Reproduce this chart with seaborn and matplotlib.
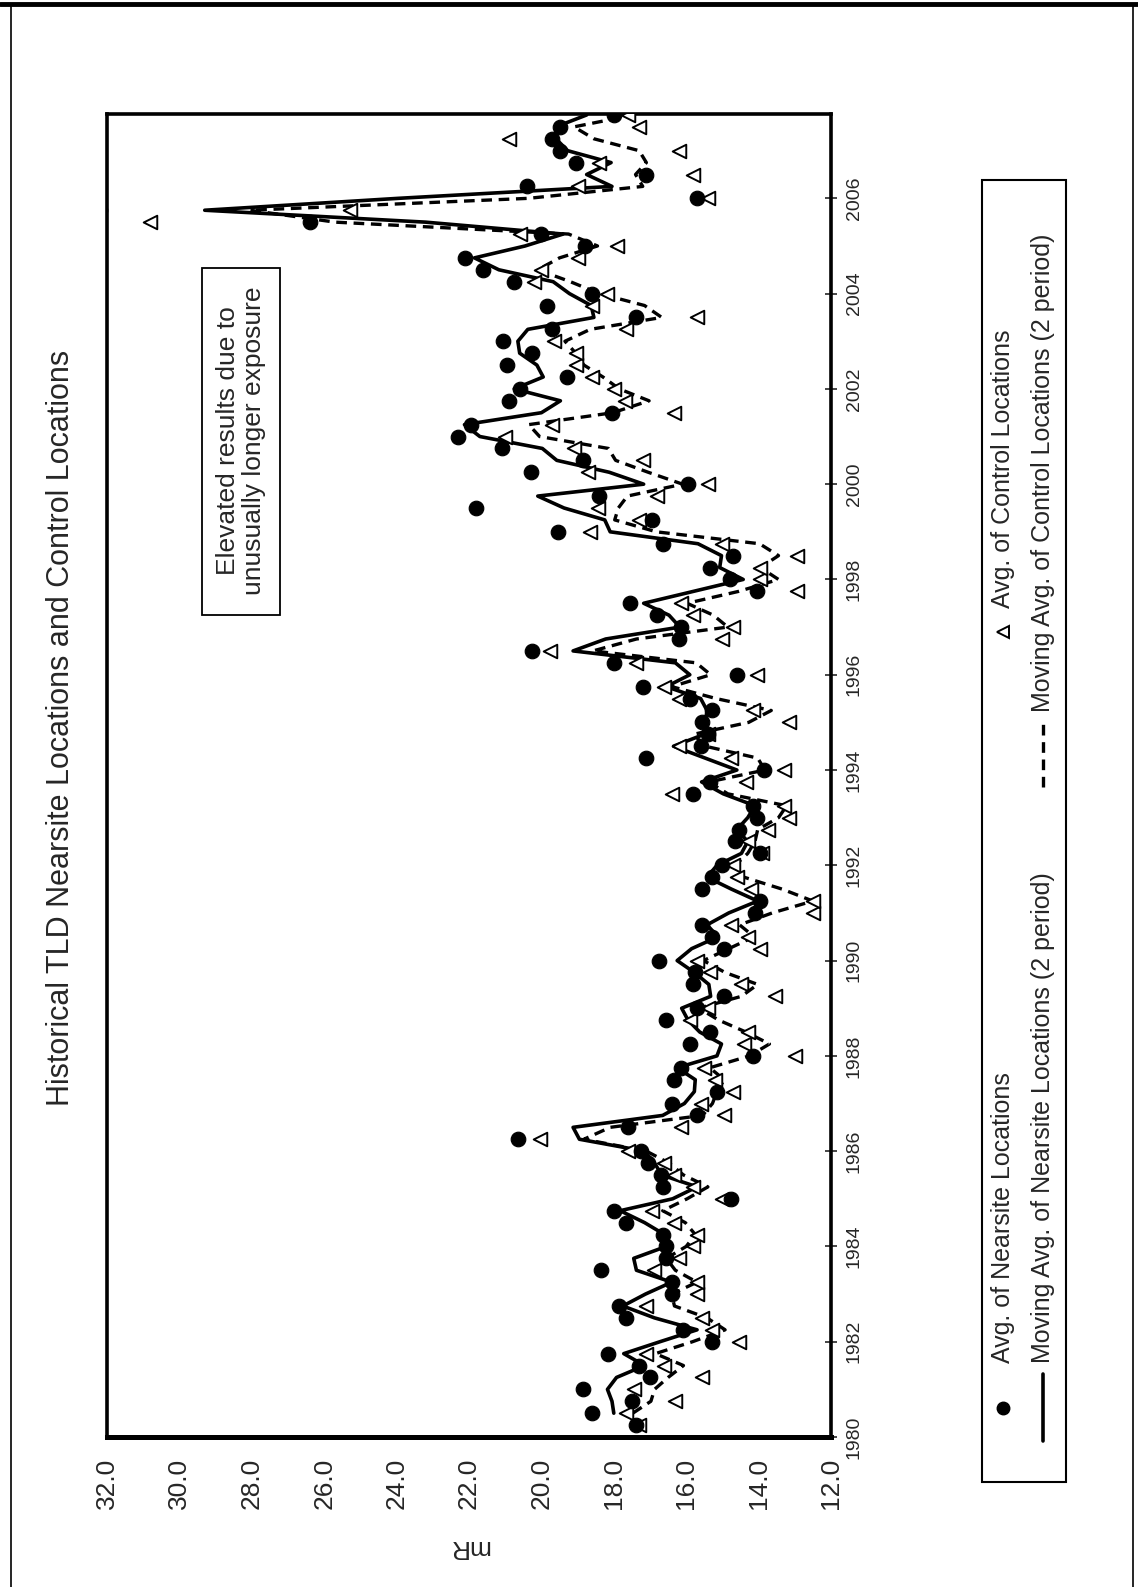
import numpy as np
import pandas as pd
import matplotlib
matplotlib.use("Agg")
import matplotlib.pyplot as plt
import seaborn as sns
from matplotlib.lines import Line2D
from matplotlib.patches import Rectangle

# quarterly sampling dates, 1980.25 ... 2007.75
years = np.arange(1980.25, 2007.76, 0.25)

# Avg. of Nearsite Locations (mR), rows of 4 quarters starting 1980.25
nearsite = [
    17.4, 18.6, 17.5, 18.85,
    17.0, 17.3, 18.15, 15.3,
    16.1, 17.65, 17.85, 16.4,
    16.4, 18.35, 16.55, 16.55,
    16.65, 17.65, 18.0, 14.75,
    16.65, 16.7, 17.05, 17.25,
    20.65, 17.6, 15.7, 16.4,
    15.15, 16.35, 16.15, 14.15,
    15.9, 15.35, 16.55, 15.7,
    14.95, 15.8, 15.75, 16.75,
    14.95, 15.3, 15.55, 14.1,
    13.95, 15.55, 15.3, 15.0,
    13.95, 14.65, 14.55, 14.05,
    14.15, 15.8, 15.35, 13.85,
    17.1, 15.6, 15.4, 15.55,
    15.3, 15.9, 17.2, 14.6,
    18.0, 20.25, 16.2, 16.15,
    16.8, 17.55, 14.05, 14.8,
    15.35, 14.7, 16.65, 19.55,
    16.95, 21.8, 18.4, 15.95,
    20.3, 18.85, 21.1, 22.3,
    21.95, 18.05, 20.9, 20.6,
    19.3, 20.95, 20.25, 21.05,
    19.7, 17.4, 19.85, 18.6,
    20.75, 21.6, 22.1, 18.8,
    20.0, 26.4, 32.2, 15.7,
    20.4, 17.1, 19.05, 19.5,
    19.7, 19.5, 18.0,
]

# Avg. of Control Locations (mR)
control = [
    17.3, 17.65, 16.3, 17.45,
    15.55, 16.6, 17.1, 14.55,
    15.3, 15.55, 17.1, 15.7,
    15.7, 16.9, 16.2, 15.8,
    15.7, 16.35, 16.95, 15.0,
    15.8, 16.35, 16.6, 17.6,
    20.05, 16.15, 14.95, 15.6,
    14.7, 15.2, 15.5, 13.0,
    14.4, 14.3, 15.9, 15.4,
    13.55, 14.5, 15.35, 15.7,
    13.95, 14.3, 14.75, 12.5,
    12.5, 14.2, 14.6, 14.7,
    13.9, 14.3, 13.75, 13.15,
    13.3, 16.4, 14.35, 13.3,
    14.75, 16.2, 15.4, 13.15,
    14.15, 16.2, 16.6, 14.05,
    17.4, 19.75, 15.0, 14.7,
    15.8, 16.15, 12.95, 13.95,
    13.95, 12.95, 15.0, 18.65,
    17.3, 18.45, 16.8, 15.4,
    18.7, 17.2, 19.1, 21.0,
    19.7, 16.35, 17.7, 18.0,
    18.6, 19.05, 19.05, 19.65,
    17.65, 15.7, 18.6, 18.2,
    20.2, 20.0, 19.0, 17.9,
    20.6, 30.8, 25.3, 15.4,
    19.0, 15.8, 18.4, 16.2,
    20.9, 17.3, 17.6,
]

value_ticks = [12.0, 14.0, 16.0, 18.0, 20.0, 22.0, 24.0, 26.0, 28.0, 30.0, 32.0]
year_ticks = list(range(1980, 2007, 2))

title = "Historical TLD Nearsite Locations and Control Locations"
note = "Elevated results due to\nunusually longer exposure"
legend_labels = ["Avg. of Nearsite Locations",
                 "Moving Avg. of Nearsite Locations (2 period)",
                 "Avg. of Control Locations",
                 "Moving Avg. of Control Locations (2 period)"]

df = pd.DataFrame({"year": years, "nearsite": nearsite, "control": control})
df["nearsite_ma"] = df["nearsite"].rolling(2).mean()
df["control_ma"] = df["control"].rolling(2).mean()

sns.set_theme(style="white")
plt.rcParams["font.family"] = ["Liberation Sans", "DejaVu Sans"]

W, H = 1138, 1587
fig = plt.figure(figsize=(W / 100, H / 100), dpi=100)


def fx(px):
    return px / W


def fy(py):
    return 1 - py / H


# page is printed sideways: value axis runs left-right, years run bottom-top
ax = fig.add_axes([fx(107), fy(1437), (831 - 107) / W, (1437 - 114) / H])

dash = (0, (3.2, 2.0))
sns.lineplot(data=df, x="control_ma", y="year", sort=False, estimator=None,
             color="black", lw=2.4, linestyle=dash, ax=ax)
sns.lineplot(data=df, x="nearsite_ma", y="year", sort=False, estimator=None,
             color="black", lw=2.6, ax=ax)
sns.scatterplot(data=df, x="control", y="year", marker="<", s=95,
                facecolor="white", edgecolor="black", linewidth=1.4, ax=ax, zorder=3)
sns.scatterplot(data=df, x="nearsite", y="year", marker="o", s=110,
                color="black", edgecolor="black", ax=ax, zorder=4)

ax.set_xlim(32, 12)
ax.set_ylim(1980, 2007.77)
ax.set_xlabel("")
ax.set_ylabel("")

ax.set_xticks(value_ticks)
ax.set_xticklabels([f"{v:.1f}" for v in value_ticks], rotation=90, fontsize=19)
ax.tick_params(axis="x", direction="inout", length=12, width=1.4, pad=9)

ax.yaxis.tick_right()
ax.set_yticks(year_ticks)
ax.set_yticklabels([str(y) for y in year_ticks], rotation=90, va="center", fontsize=14)
ax.tick_params(axis="y", direction="inout", length=9, width=1.2, pad=6)

for side, sp in ax.spines.items():
    sp.set_visible(True)
    sp.set_color("black")
    sp.set_linewidth(2.6)
ax.spines["bottom"].set_linewidth(3.6)

# axis title (upside down on the sideways page)
fig.text(fx(469), fy(1547), "mR", rotation=180, ha="center", va="center", fontsize=19)

# chart title
fig.text(fx(61), fy(728), title, rotation=90, ha="center", va="center", fontsize=22)

# note box
fig.patches.append(Rectangle((fx(202), fy(615)), (280 - 202) / W, (615 - 268) / H,
                             transform=fig.transFigure, fill=False, lw=1.3,
                             edgecolor="black"))
fig.text(fx(241), fy(441), note, rotation=90, ha="center", va="center",
         fontsize=19, linespacing=1.1, multialignment="center")

# legend, drawn sideways by hand
fig.patches.append(Rectangle((fx(982), fy(1482)), (1066 - 982) / W, (1482 - 180) / H,
                             transform=fig.transFigure, fill=False, lw=1.5,
                             edgecolor="black"))
fig.lines.append(Line2D([fx(1003)], [fy(1408)], marker="o", ms=9, color="black",
                        transform=fig.transFigure))
fig.lines.append(Line2D([fx(1043), fx(1043)], [fy(1441), fy(1374)], lw=2.6,
                        color="black", transform=fig.transFigure))
fig.lines.append(Line2D([fx(1003)], [fy(632)], marker="<", ms=9, mfc="white",
                        mec="black", mew=1.4, ls="none", transform=fig.transFigure))
fig.lines.append(Line2D([fx(1043), fx(1043)], [fy(787), fy(722)], lw=2.4,
                        ls=dash, color="black", transform=fig.transFigure))
for x, y0, lab in [(1003, 1363, legend_labels[0]), (1043, 1363, legend_labels[1]),
                   (1003, 608, legend_labels[2]), (1043, 712, legend_labels[3])]:
    fig.text(fx(x), fy(y0), lab, rotation=90, ha="center", va="bottom", fontsize=18)

# page border of the scanned sheet
fig.lines.append(Line2D([0, 1], [fy(4), fy(4)], lw=3.5, color="black",
                        transform=fig.transFigure))
fig.lines.append(Line2D([fx(11), fx(11)], [fy(6), 0], lw=1.2, color="black",
                        transform=fig.transFigure))
fig.lines.append(Line2D([fx(1133), fx(1133)], [fy(6), 0], lw=1.2, color="black",
                        transform=fig.transFigure))

fig.savefig("out.png", dpi=100)
